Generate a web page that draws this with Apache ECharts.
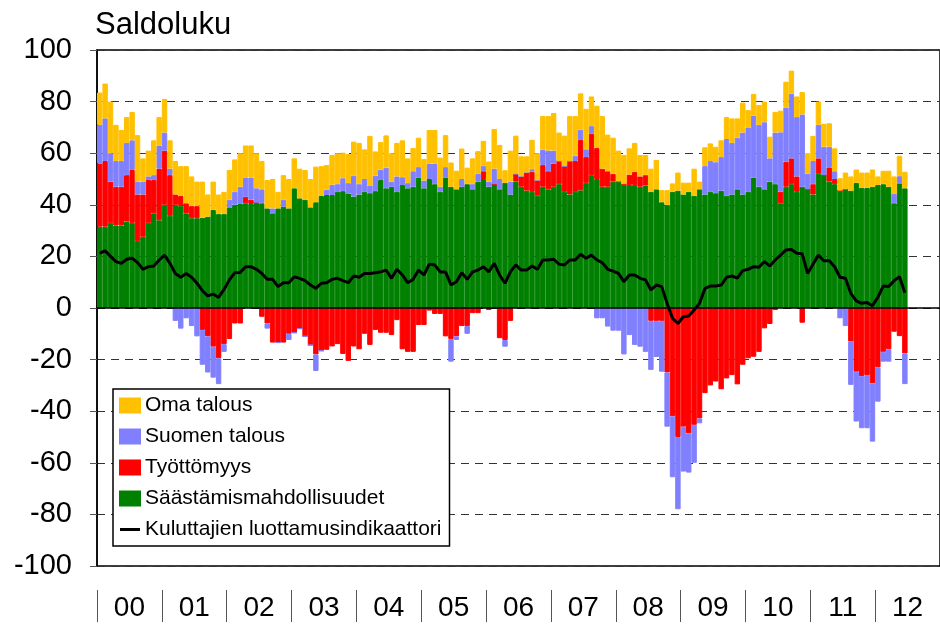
<!DOCTYPE html>
<html>
<head>
<meta charset="utf-8">
<script src="https://cdn.jsdelivr.net/npm/echarts@6/dist/echarts.min.js"></script>
<style>
    html, body { margin: 0; padding: 0; background: #fff; }
    #chart { width: 940px; height: 626px; }
</style>
</head>
<body>
<div id="chart"></div>
<script>
    // x axis: year labels (2012 only partly filled, Jan-Jun)
    const years = ['00', '01', '02', '03', '04', '05', '06', '07', '08', '09', '10', '11', '12'];

    // monthly balances, Jan 2000 - Jun 2012
    const saastamismahdollisuudet = [
        31.5, 31.5, 33, 32, 32, 33.5, 33, 26, 27.6, 33, 36.7, 34,
        40, 35.7, 40, 39.5, 36.7, 34.8, 34.8, 35, 35.4, 38, 36.4, 36.4,
        39, 40, 40.3, 40.6, 40.3, 40.8, 40.6, 38.6, 36.7, 38.6, 39.3, 38.6,
        46.4, 42.5, 42, 39, 41, 43.4, 43.8, 43.8, 45, 45.3, 44.4, 43.2,
        44, 45, 44.5, 45.3, 49.6, 46.4, 47, 45, 47.7, 46.4, 47, 50.6,
        46.4, 50, 48, 45, 50.6, 47, 46, 47, 48, 46, 49, 50,
        47, 48, 46, 48.5, 44, 49, 47, 45.5, 45, 43.5, 47, 46,
        47, 48, 45, 44, 45, 45.6, 48.5, 51.5, 50, 47, 47, 49,
        49, 48, 47.7, 47.7, 47, 47.5, 45, 46, 41, 40, 45, 45.5,
        44, 45, 43.5, 46, 44, 45, 44.5, 45.5, 43.5, 44, 46, 44,
        45, 50.6, 47, 46, 49, 48, 40.6, 47, 48, 45, 47, 46,
        44, 52, 51.5, 49, 48, 45.5, 46, 45.5, 48.5, 46.5, 46.5, 47,
        47.7, 48, 47, 40.6, 48.3, 46.4
    ];
    const tyottomyys = [
        24.5, 25.5, 16, 15, 15, 18, 20.5, 18, 16.4, 16.6, 12.9, 20,
        21, 15.8, 4, 3.9, 3.9, 4.7, 4.7, -8.5, -11, -15, -19.5, -14,
        -12, -6, -6, 2.5, 1.7, 0, -3.4, -6, -13.4, -13.4, -13.4, -10,
        -9.6, -8, -11, -14.4, -18, -16.6, -16.2, -14.9, -14, -17.8, -20.5, -14.9,
        -16, -10, -14.3, -8.5, -9.6, -9.6, -10.5, -4.7, -16, -17, -17, -6.6,
        -6.6, -1, -2.3, -2.3, -11, -12, -11, -7, -7, -2, -2, 3,
        -0.8, 0, -11.7, -12.4, -5, 3, 4, 7, 7.8, 6, 8.4, 7,
        9, 9, 10, 13, 12, 19.5, 10, 16, 12, 7, 6, 3,
        0, 0, 4, 5, 4, 4, -5, -5, -5, -25, -42, -50,
        -46, -48.6, -45.3, -42.8, -33, -30, -28.5, -31.5, -27.3, -26, -29.6, -22,
        -19.5, -18.9, -17, -7.9, -6.2, -0.8, 4.5, 9.7, 10, 6, -5.7, 0,
        4, 6, 0, 5.5, 2, 0, 0, -13, -24.7, -26.4, -26, -29.2,
        -23, -17, -16, -9.2, -10.9, -17.6
    ];
    const suomenTalous = [
        15, 16.5, 11, 10, 10, 12.5, 11.5, 5, 5, 1.4, 1.9, 9,
        7, 2.5, -5, -8, -4, -7, -11, -13.5, -14, -12, -10, -3,
        3, 5, 6.7, 7.5, 8.6, 5.6, 5.4, -2, 1.9, 0, 2.6, -2.4,
        0, 0, 0, 0, -6.4, 0, 2, 4, 3, 5, 4, 8,
        4, 5, 3, 6, 4, 8, 2, 6, 3, 2, 6, 4,
        3, 6, 8, 2, 4, -8.8, -1.4, 3, -3, 2, 3, 2,
        2, 6, 4, -2.6, 5, 0, 0, 0, 1, 0, 6, 8,
        5, 0, 0, 0, 2, 4, 3, 3, -4, -4, -7.2, -8.8,
        -8.8, -18, -10.5, -14.3, -15, -17, -19, -14, -19.7, -21, -23.6, -28,
        -17.4, -15.2, -14.7, -1.9, 11, 12, 12, 13, 22, 20, 20, 24,
        25, 24, 24, 26, 9, 20, 23, 21, 25, 23, 28, 6,
        9, 13, 11, 8, 3, -4, -7, -16.8, -19.3, -20.2, -20.6, -22.6,
        -13.3, -3.8, -4.8, 3.6, 2.8, -11.9
    ];
    const omaTalous = [
        12.5, 13.5, 20, 14, 12, 10, 11, 18, 9, 10, 13.5, 11,
        13, 11, 13, 11.6, 14.4, 11.5, 9.5, 14, 8.6, 11, 7.6, 8.6,
        11.5, 12.6, 13, 12.4, 12.4, 13.6, 11, 11, 11.4, 6.4, 9.6, 11.4,
        11.6, 11.5, 11.5, 11, 13.8, 11.6, 9.6, 11.5, 12, 9.9, 11.3, 13.3,
        16, 11.5, 19.2, 9.4, 10.7, 12.5, 11, 13, 14.3, 9.6, 9, 11.4,
        8.4, 13, 13, 11.3, 12.4, 9.4, 7.2, 11.8, 6.4, 10, 8.8, 9.8,
        7.8, 15.4, 13.2, 4.9, 12, 14.8, 7.8, 6.3, 11.4, 10.5, 13, 13.4,
        14.6, 11, 11.8, 17.4, 15.4, 14.1, 15.7, 11.5, 16.4, 20.4, 14.2, 14,
        12, 11.3, 10.2, 11.3, 8.3, 7.8, 9, 11.4, 4.7, 5.7, 3.3, 7,
        4.6, 3.6, 10.5, 3, 7.3, 6.8, 6, 6.5, 8.5, 9.5, 7.5, 11.6,
        6.7, 8.4, 7.7, 8, 8.4, 8, 8.4, 10, 9, 8, 8.7, 8,
        9.7, 9, 8.9, 9.1, 8.9, 4.8, 6.5, 5.5, 5.2, 6, 6, 6.7,
        3.3, 5.2, 6.2, 6.8, 7.9, 6.4
    ];
    const luottamusindikaattori = [
        21.2, 22.2, 20, 18, 17.3, 18.9, 19.3, 17.6, 15, 16, 16.3, 18.6,
        20.5, 17.3, 13.4, 11.9, 13.4, 11.9, 9.6, 6.7, 4.7, 5.4, 4.1, 7.2,
        10.9, 13.7, 13.8, 16, 16, 15, 13.4, 11.1, 11.1, 8.3, 9.8, 9.8,
        12.1, 11.5, 10.6, 8.9, 7.6, 9.6, 9.8, 11.1, 11.5, 10.6, 9.8, 12.4,
        11.9, 13.4, 13.4, 13.7, 14, 14.7, 11.5, 15, 12.8, 9.8, 11.1, 14.7,
        12.8, 17, 16.7, 14, 14, 8.9, 10.2, 13.7, 11.1, 14, 14.7, 16,
        14, 17.3, 12.8, 9.6, 14, 16.7, 14.7, 14.7, 16.3, 15, 18.6, 18.6,
        18.9, 17, 16.7, 18.6, 18.6, 20.8, 19.3, 20.5, 18.6, 17.6, 15, 14.3,
        13.4, 10.2, 12.8, 12.8, 11.5, 10.9, 7, 8.9, 8.3, 1.8, -4, -6,
        -3.4, -3.1, -0.8, 1.8, 7.6, 8.5, 8.5, 8.9, 11.9, 12.4, 11.6, 14.5,
        15, 16, 15.8, 18, 16.3, 18.6, 20.5, 22.5, 22.7, 21.2, 21, 13.4,
        17, 20.5, 18.3, 18.3, 16, 11.9, 11.5, 5.7, 2.8, 1.8, 2.1, 0.9,
        4.1, 8.5, 8.3, 10.6, 12.1, 5.9
    ];

    const months = [];
    years.forEach(function (y) {
        for (let m = 1; m <= 12; m++) months.push(y + '/' + m);
    });

    const font = '"Liberation Sans", Arial, sans-serif';
    const chart = echarts.init(document.getElementById('chart'));

    function barSeries(name, data, color) {
        return {
            name: name, type: 'bar', stack: 'saldo', data: data,
            barCategoryGap: '0%',
            itemStyle: { color: color, borderColor: color, borderWidth: 1 },
            emphasis: { disabled: true }
        };
    }

    const option = {
        animation: false,
        title: {
            text: 'Saldoluku', left: 95, top: 10, padding: 0,
            textStyle: { fontSize: 31, fontWeight: 'normal', color: '#000', fontFamily: font }
        },
        legend: {
            orient: 'vertical', left: 113, top: 389,
            data: [
                { name: 'Oma talous', icon: 'rect' },
                { name: 'Suomen talous', icon: 'rect' },
                { name: 'Työttömyys', icon: 'rect' },
                { name: 'Säästämismahdollisuudet', icon: 'rect' },
                { name: 'Kuluttajien luottamusindikaattori', icon: 'path://M0,0H20V3H0Z' }
            ],
            symbolKeepAspect: true,
            itemWidth: 20, itemHeight: 14, itemGap: 10,
            padding: [6, 8, 6, 6],
            backgroundColor: '#fff', borderColor: '#000', borderWidth: 1.5, borderRadius: 0,
            textStyle: { fontSize: 21, color: '#000', fontFamily: font },
            selectedMode: false,
            z: 10
        },
        grid: {
            left: 97, top: 50, width: 852, height: 516,
            show: true, borderColor: '#000', borderWidth: 1.5
        },
        xAxis: [
            {
                type: 'category', data: months, z: 5,
                axisLine: { onZero: true, lineStyle: { color: '#000', width: 1.5 } },
                axisTick: { show: false },
                axisLabel: { show: false }
            },
            {
                type: 'category', data: years, position: 'bottom', offset: 24,
                axisLine: { show: false },
                axisTick: { show: true, length: 32, lineStyle: { color: '#555', width: 1 } },
                axisLabel: { fontSize: 28, margin: 4, color: '#000', fontFamily: font }
            }
        ],
        yAxis: {
            type: 'value', min: -100, max: 100, interval: 20,
            axisLine: { show: true, lineStyle: { color: '#000', width: 1.5 } },
            axisTick: { show: true, length: 7, lineStyle: { color: '#555' } },
            axisLabel: { fontSize: 29, margin: 25, color: '#000', fontFamily: font },
            splitLine: { show: true, lineStyle: { color: '#333', width: 1, type: [8, 6] } }
        },
        series: [
            barSeries('Säästämismahdollisuudet', saastamismahdollisuudet, '#008000'),
            barSeries('Työttömyys', tyottomyys, '#FF0000'),
            barSeries('Suomen talous', suomenTalous, '#8080FF'),
            barSeries('Oma talous', omaTalous, '#FFC000'),
            {
                name: 'Kuluttajien luottamusindikaattori', type: 'line',
                data: luottamusindikaattori, symbol: 'none', z: 6,
                lineStyle: { color: '#000', width: 3 },
                itemStyle: { color: '#000' },
                emphasis: { disabled: true }
            }
        ]
    };

    chart.setOption(option);
</script>
</body>
</html>
